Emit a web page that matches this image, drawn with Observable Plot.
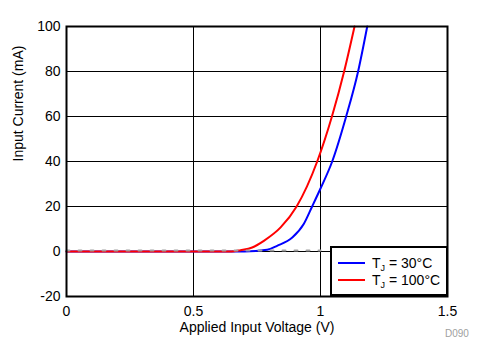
<!DOCTYPE html>
<html>
<head>
<meta charset="utf-8">
<script src="https://cdn.jsdelivr.net/npm/d3@7"></script>
<script src="https://cdn.jsdelivr.net/npm/@observablehq/plot@0.6"></script>
<style>
  body { margin: 0; background: #fff; }
  #wrap { position: relative; width: 486px; height: 362px; font-family: "Liberation Sans", Arial, sans-serif; }
  #legend { position: absolute; left: 330px; top: 246px; width: 114px; height: 46px; border: 2px solid #000; background: #fff; font-size: 14px; color: #000; }
  .row { position: absolute; left: 0; height: 16px; line-height: 16px; white-space: nowrap; }
  .sw { position: absolute; left: 6px; width: 27px; height: 2px; }
  .lbl { position: absolute; left: 40px; top: 0; }
  .lbl sub { font-size: 9px; vertical-align: -3px; line-height: 0; }
  #code { position: absolute; left: 445px; top: 328px; font-size: 10px; color: #A0A0A0; }
</style>
</head>
<body>
<div id="wrap">
  <div id="chart"></div>
  <div id="legend"></div>
  <div id="code">D090</div>
</div>
<script>
// Series: T_J = 30°C
const voltage30 = [0, 0.3, 0.6, 0.7, 0.79, 0.829, 0.889, 0.934, 0.967, 1.0, 1.046, 1.101, 1.148, 1.184];
const current30 = [0, 0, 0, 0, 0.75, 2.5, 6.2, 12.2, 20, 28, 40, 60, 80, 100];
// Series: T_J = 100°C
const voltage100 = [0, 0.3, 0.6, 0.65, 0.685, 0.731, 0.777, 0.843, 0.906, 0.987, 1.045, 1.093, 1.134];
const current100 = [0, 0, 0, 0, 0.6, 1.8, 4.75, 10.7, 20, 40, 60, 80, 100];
// Gray dashed reference near 0 mA
const refVoltage = [0, 1.0];
const refCurrent = [0.4, 0.4];

const seriesNames = ["30°C", "100°C"];
const seriesColors = ["#0000FF", "#FF0000"];

const xTicks = [0, 0.5, 1, 1.5];
const yTicks = [-20, 0, 20, 40, 60, 80, 100];
const xGrid = [0.5, 1];
const yGrid = [0, 20, 40, 60, 80];

const xLabel = "Applied Input Voltage (V)";
const yLabel = "Input Current (mA)";

const s30 = voltage30.map((v, i) => ({v, c: current30[i]}));
const s100 = voltage100.map((v, i) => ({v, c: current100[i]}));
const ref = refVoltage.map((v, i) => ({v, c: refCurrent[i]}));

const chart = Plot.plot({
  width: 486,
  height: 362,
  marginLeft: 66,
  marginRight: 39,
  marginTop: 26,
  marginBottom: 66,
  style: {fontFamily: "'Liberation Sans', Arial, sans-serif", fontSize: "14px", color: "#000", background: "#fff"},
  x: {domain: [0, 1.5]},
  y: {domain: [-20, 100]},
  marks: [
    Plot.ruleX(xGrid, {stroke: "#000", strokeWidth: 1}),
    Plot.ruleY(yGrid, {stroke: "#000", strokeWidth: 1}),
    Plot.line(s30, {x: "v", y: "c", stroke: seriesColors[0], strokeWidth: 2, curve: "monotone-x"}),
    Plot.line(s100, {x: "v", y: "c", stroke: seriesColors[1], strokeWidth: 2, curve: "monotone-x"}),
    Plot.line(ref, {x: "v", y: "c", stroke: "#A0A0A0", strokeWidth: 2, strokeDasharray: "3,9"}),
    Plot.frame({stroke: "#000", strokeWidth: 2}),
    Plot.axisX(xTicks, {tickSize: 0, tickPadding: 10, label: null, fontSize: 14, tickFormat: d => String(d)}),
    Plot.axisY(yTicks, {tickSize: 0, tickPadding: 6, label: null, fontSize: 14, tickFormat: d => String(d)}),
    Plot.text([xLabel], {frameAnchor: "bottom", dy: 31, fontSize: 14, lineAnchor: "middle"}),
    Plot.text([yLabel], {frameAnchor: "left", dx: -48, rotate: -90, fontSize: 14, lineAnchor: "middle"})
  ]
});
document.getElementById("chart").appendChild(chart);

const legend = document.getElementById("legend");
seriesNames.forEach((name, i) => {
  const row = document.createElement("div");
  row.className = "row";
  row.style.top = (7 + i * 17) + "px";
  row.style.width = "114px";
  const sw = document.createElement("div");
  sw.className = "sw";
  sw.style.top = "7px";
  sw.style.background = seriesColors[i];
  const lbl = document.createElement("div");
  lbl.className = "lbl";
  lbl.innerHTML = "T<sub>J</sub> = " + name;
  row.appendChild(sw);
  row.appendChild(lbl);
  legend.appendChild(row);
});
</script>
</body>
</html>
